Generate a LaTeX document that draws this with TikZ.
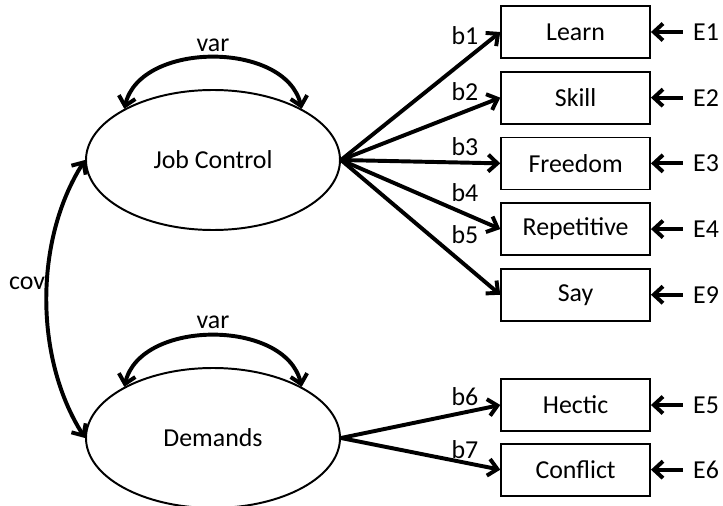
\documentclass[tikz,border=0pt]{standalone}
\usepackage{fontspec}
\setmainfont{Carlito}
\usepackage{tikz}
\usetikzlibrary{arrows.meta, positioning, shapes.geometric}

\begin{document}
\begin{tikzpicture}[>={Straight Barb[length=6.5pt, width=12pt]},
  font=\fontsize{18.4}{22}\selectfont,
  latent/.style={draw, ellipse, line width=1.4pt, minimum width=6.35cm, minimum height=3.5cm, inner sep=0pt},
  manifest/.style={draw, line width=1.2pt, minimum width=3.725cm, minimum height=1.3cm, inner sep=0pt},
  load/.style={->, line width=2.8pt},
  err/.style={inner sep=0.25cm}]

\useasboundingbox (0,0) rectangle (18.075,-12.65);

% Latent factors
\node[latent] (jobcontrol) at (5.325,-4.0) {Job Control};
\node[latent] (demands) at (5.325,-10.95) {Demands};

% Indicators of Job Control
\node[manifest] (learn) at (14.39,-0.8) {Learn};
\node[manifest, below=0.3cm of learn] (skill) {Skill};
\node[manifest, below=0.3cm of skill] (freedom) {Freedom};
\node[manifest, below=0.3cm of freedom] (repetitive) {Repetitive};
\node[manifest, below=0.3cm of repetitive] (say) {Say};

% Indicators of Demands
\node[manifest] (hectic) at (14.39,-10.125) {Hectic};
\node[manifest, below=0.275cm of hectic] (conflict) {Conflict};

% Error terms
\node[err, right=0.8cm of learn] (e1) {E1};
\node[err, right=0.8cm of skill] (e2) {E2};
\node[err, right=0.8cm of freedom] (e3) {E3};
\node[err, right=0.8cm of repetitive] (e4) {E4};
\node[err, right=0.8cm of say] (e9) {E9};
\node[err, right=0.8cm of hectic] (e5) {E5};
\node[err, right=0.8cm of conflict] (e6) {E6};

\draw[load] (e1) -- (learn);
\draw[load] (e2) -- (skill);
\draw[load] (e3) -- (freedom);
\draw[load] (e4) -- (repetitive);
\draw[load] (e9) -- (say);
\draw[load] (e5) -- (hectic);
\draw[load] (e6) -- (conflict);

% Loadings
\draw[load] (jobcontrol.east) -- (learn.west);
\draw[load] (jobcontrol.east) -- (skill.west);
\draw[load] (jobcontrol.east) -- (freedom.west);
\draw[load] (jobcontrol.east) -- (repetitive.west);
\draw[load] (jobcontrol.east) -- (say.west);
\draw[load] (demands.east) -- (hectic.west);
\draw[load] (demands.east) -- (conflict.west);

\node (b1) at (11.625,-0.9) {b1};
\node (b2) at (11.625,-2.3) {b2};
\node (b3) at (11.625,-3.675) {b3};
\node (b4) at (11.625,-4.825) {b4};
\node (b5) at (11.625,-5.875) {b5};
\node (b6) at (11.625,-9.925) {b6};
\node (b7) at (11.625,-11.25) {b7};

% Variances and covariance
\draw[<->, line width=2.8pt] (jobcontrol.150) .. controls +(0.4,1.7) and +(-0.4,1.7) .. (jobcontrol.30);
\draw[<->, line width=2.8pt] (demands.150) .. controls +(0.4,1.7) and +(-0.4,1.7) .. (demands.30);
\draw[<->, line width=2.8pt] (jobcontrol.west) .. controls +(-1.27,-2.0) and +(-1.27,2.0) .. (demands.west);

\node (varjc) at (5.325,-1.125) {var};
\node (vardm) at (5.325,-8.05) {var};
\node (cov) at (0.675,-7.075) {cov};

\end{tikzpicture}
\end{document}
